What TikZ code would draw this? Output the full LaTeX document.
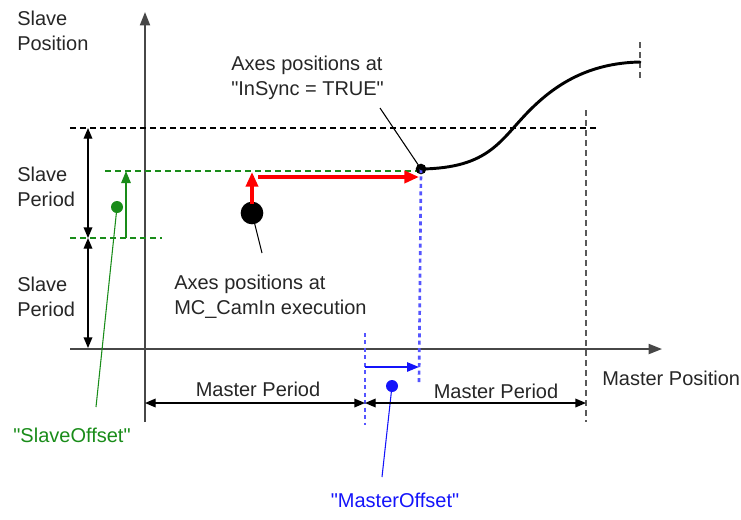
\documentclass[tikz,border=0pt]{standalone}
\usepackage{fontspec}
\setmainfont{Liberation Sans}
\usetikzlibrary{arrows.meta,positioning}

\definecolor{offgreen}{RGB}{25,140,25}
\definecolor{offblue}{RGB}{20,20,250}
\definecolor{dotblue}{RGB}{85,85,255}
\newcommand{\qt}[1]{\textquotedbl#1\textquotedbl}

\begin{document}
\begin{tikzpicture}[
  x=0.75pt, y=-0.75pt,
  font=\fontsize{15}{18.5}\selectfont,
  axis/.style={-{Triangle[length=10pt,width=7.5pt]}, line width=1.4pt, draw=black!72},
  span/.style={{Triangle[length=8pt,width=6.5pt]}-{Triangle[length=8pt,width=6.5pt]}, line width=1pt},
  guide/.style={line width=0.9pt, dash pattern=on 4.5pt off 3pt},
  dotted blue/.style={line width=2pt, draw=dotblue, dash pattern=on 3pt off 2.6pt},
  move/.style={-{Triangle[length=11pt,width=9pt]}, line width=2.7pt, draw=red, fill=red},
  leader/.style={line width=0.8pt},
  txt/.style={align=left, inner sep=0pt, text=black!85},
  spot/.style={circle, fill, inner sep=0pt}
]
\useasboundingbox (0,0) rectangle (741,519);

% axes
\coordinate (o) at (145,349);
\coordinate (ytop) at (145,12);
\coordinate (ybot) at (145,422);
\coordinate (xleft) at (70,349);
\coordinate (xright) at (662,349);
\draw[line width=1.4pt, draw=black!72] (ybot) -- (o);
\draw[axis] (o) -- (ytop);
\draw[axis] (xleft) -- (xright);

% period grid
\coordinate (p0) at (70,128);
\coordinate (p1) at (598,128);
\coordinate (m2top) at (586,110);
\coordinate (m2bot) at (586,422);
\coordinate (endtop) at (640,42);
\coordinate (endbot) at (640,80);
\draw[guide, draw=black] (p0) -- (p1);
\draw[guide, draw=black!65] (m2top) -- (m2bot);
\draw[guide, draw=black!65] (endtop) -- (endbot);

\coordinate (g0) at (105,171);
\coordinate (g1) at (419,171);
\coordinate (h0) at (70,238);
\coordinate (h1) at (162,238);
\draw[guide, draw=offgreen] (g0) -- (g1);
\draw[guide, draw=offgreen] (h0) -- (h1);

% slave periods
\coordinate (s0) at (88,128);
\coordinate (s1) at (88,238);
\coordinate (s2) at (88,348);
\draw[span] (s0) -- (s1);
\draw[span] (s1) -- (s2);

% slave offset
\coordinate (so0) at (126,238);
\coordinate (so1) at (126,171);
\draw[-{Triangle[length=9pt,width=7pt]}, line width=1.4pt, draw=offgreen, fill=offgreen] (so0) -- (so1);
\node[spot, fill=offgreen, minimum size=9pt] (sodot) at (117,207) {};
\coordinate (soend) at (96,407);
\draw[leader, draw=offgreen] (sodot.center) -- (soend);
\node[txt, text=offgreen] (solabel) at (72,435) {\qt{SlaveOffset}};

% master offset
\coordinate (mo0) at (365,333);
\coordinate (mo1) at (365,425);
\coordinate (sy1) at (419,382);
\draw[dotted blue] (mo0) -- (mo1);
\coordinate (ma0) at (365,367);
\coordinate (ma1) at (419,367);
\draw[-{Triangle[length=9pt,width=7pt]}, line width=1.3pt, draw=offblue, fill=offblue] (ma0) -- (ma1);
\node[spot, fill=offblue, minimum size=9pt] (modot) at (392,386) {};
\coordinate (moend) at (382,477);
\draw[leader, draw=offblue] (modot.center) -- (moend);
\node[txt, text=offblue] (molabel) at (395,500) {\qt{MasterOffset}};

% master periods
\coordinate (q0) at (145,403);
\coordinate (q1) at (365,403);
\coordinate (q2) at (586,403);
\draw[span] (q0) -- (q1);
\draw[span] (q1) -- (q2);

% start position and move to sync
\node[spot, minimum size=17pt] (start) at (252,213) {};
\coordinate (r0) at (252,204);
\coordinate (r1) at (252,172);
\coordinate (r2) at (258,177);
\coordinate (r3) at (419,177);
\draw[move] (r0) -- (r1);
\draw[move] (r2) -- (r3);
\coordinate (startend) at (262,253);
\draw[leader] (start.center) -- (startend);

% cam profile
\node[spot, minimum size=8pt] (sync) at (421,169) {};
\draw[dotted blue] (sync.center) -- (sy1);
\draw[line width=2.2pt, line cap=round] (sync.center) .. controls (490,168) and (500,140) .. (530,110)
  .. controls (555,85) and (588,63) .. (640,62);
\coordinate (syncend) at (380,108);
\draw[leader] (sync.center) -- (syncend);

% labels
\node[txt, anchor=west] (ylabel) at (17,31) {Slave\\Position};
\node[txt, anchor=west] (per1) at (17,187) {Slave\\Period};
\node[txt, anchor=west] (per2) at (17,297) {Slave\\Period};
\node[txt, anchor=west] (insync) at (231,78) {Axes positions at\\\qt{InSync = TRUE}};
\node[txt, anchor=west] (camin) at (174,297) {Axes positions at\\MC\_CamIn execution};
\node[txt] (mp1) at (258,389) {Master Period};
\node[txt] (mp2) at (496,391) {Master Period};
\node[txt, anchor=west] (xlabel) at (602,378) {Master Position};
\end{tikzpicture}
\end{document}
